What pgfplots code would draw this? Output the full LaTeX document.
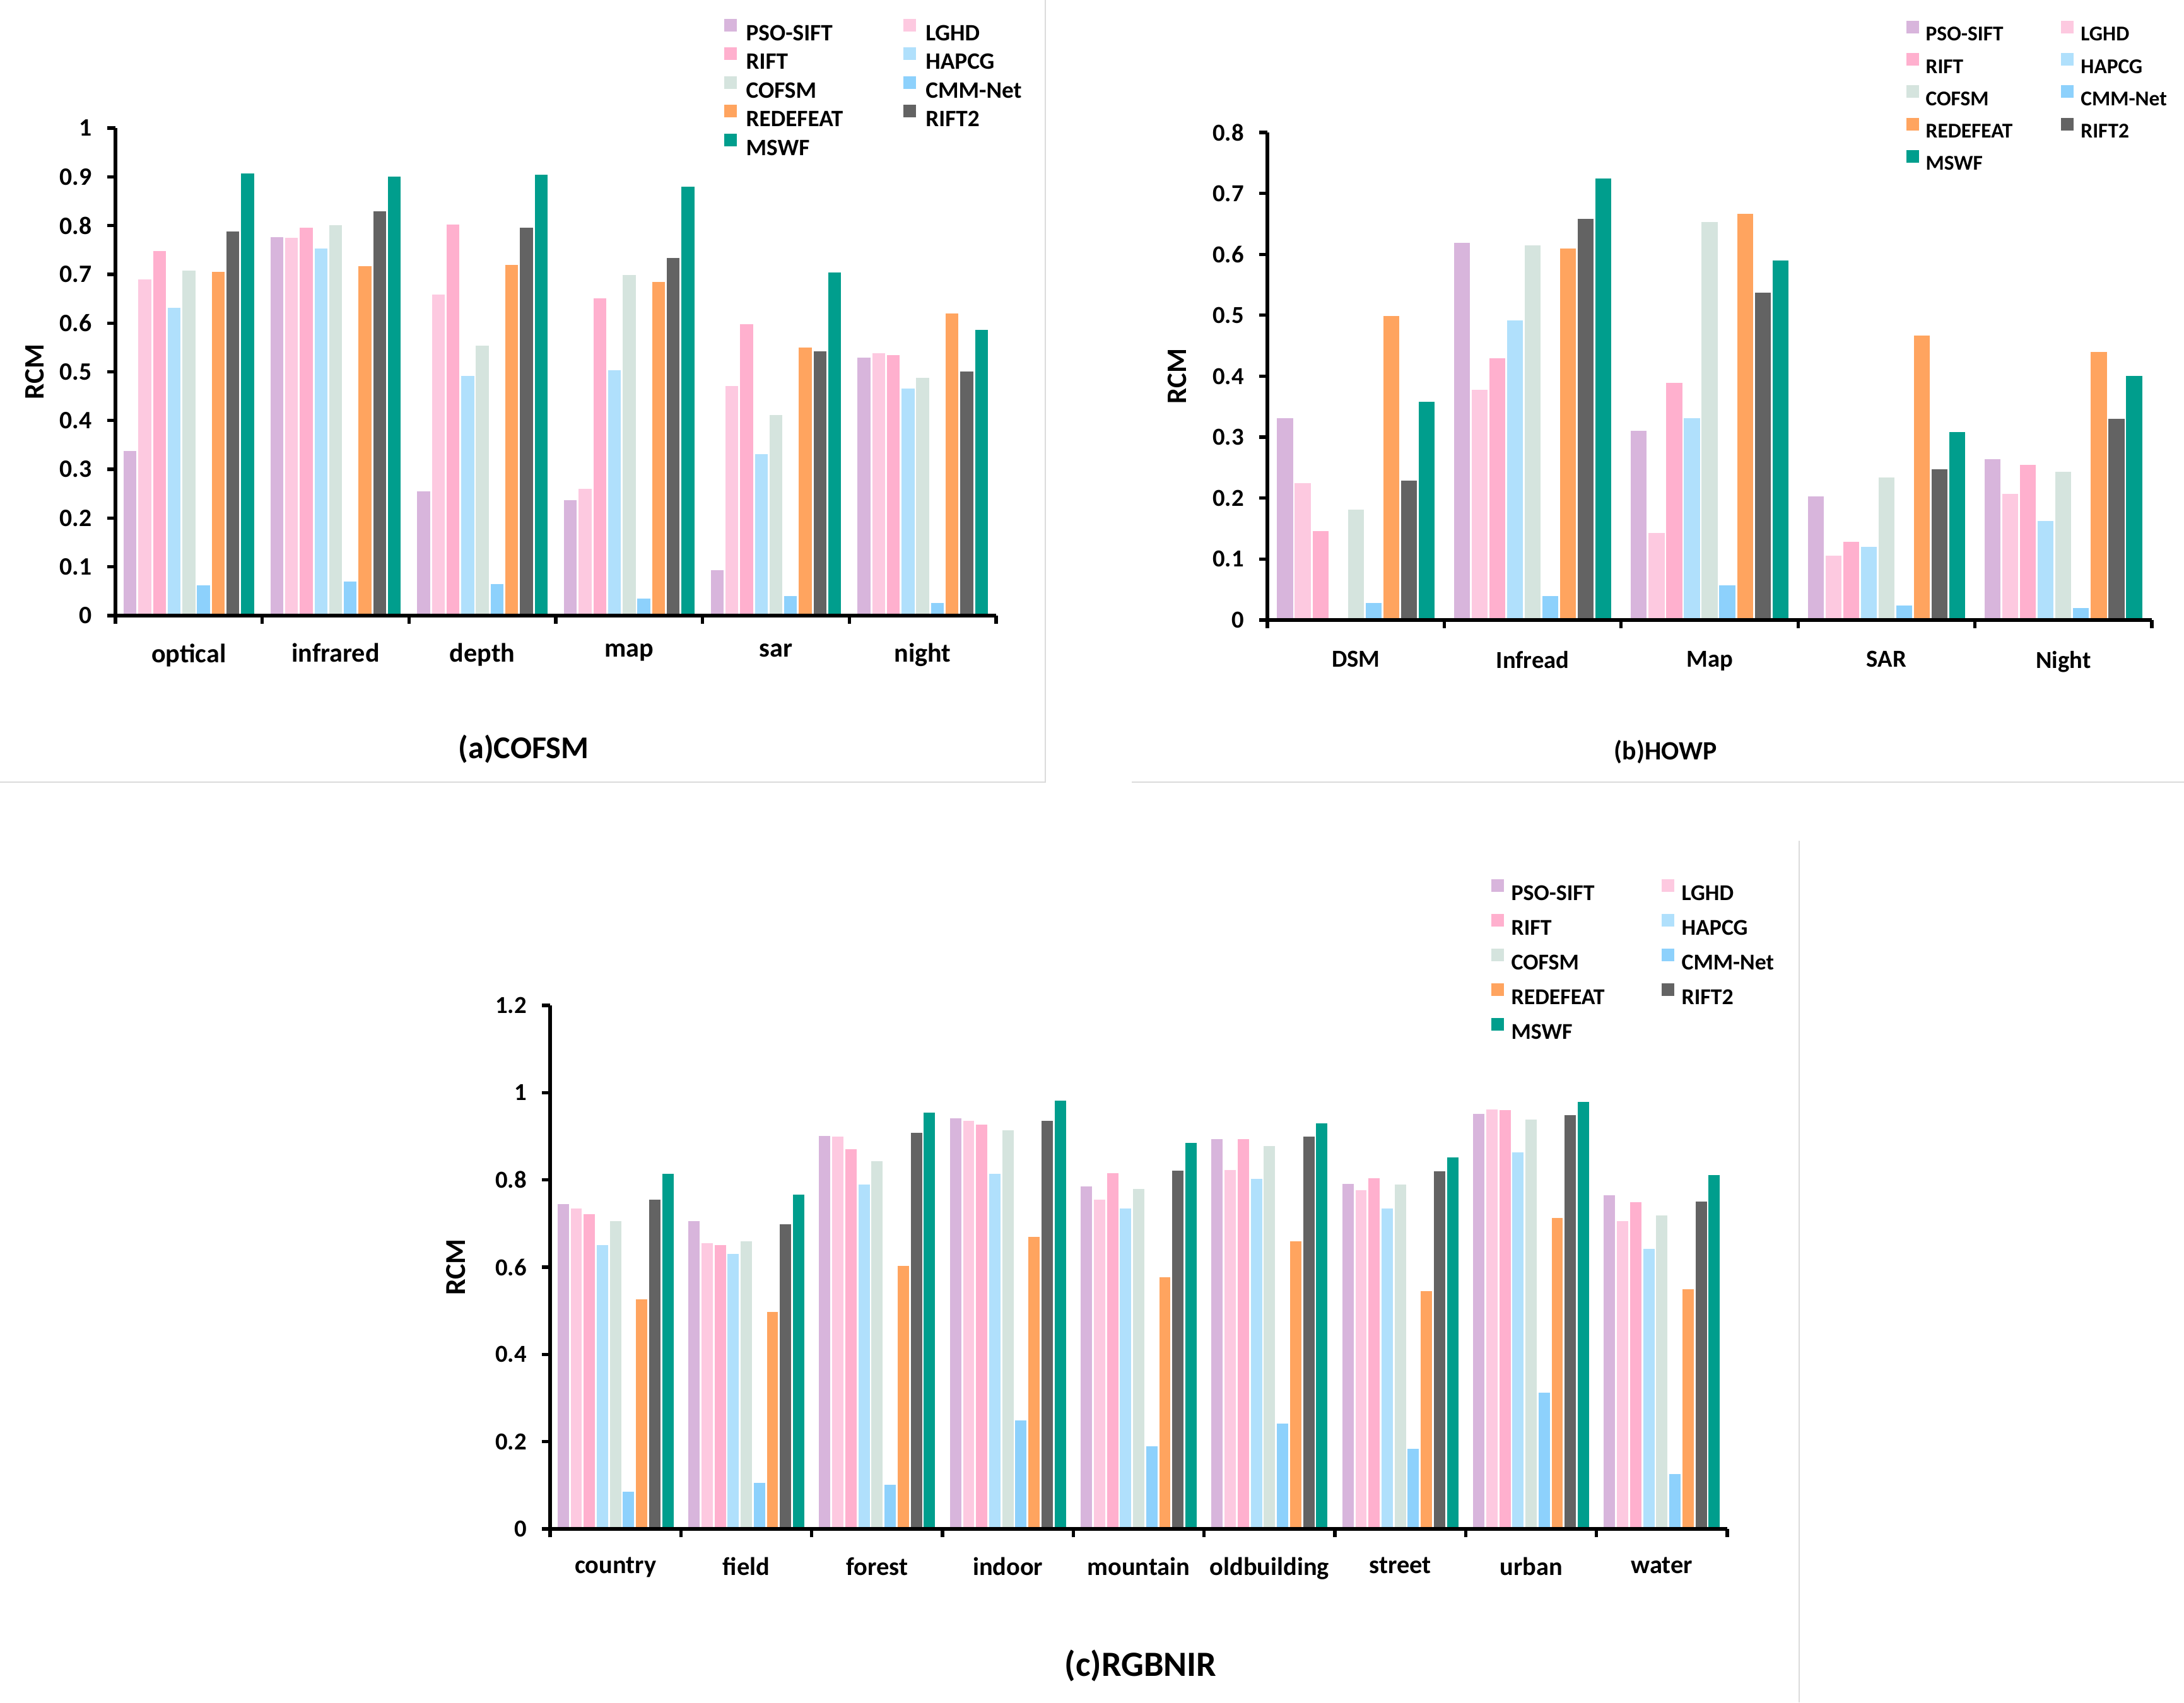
\documentclass[border=0pt]{standalone}
\usepackage{fontspec}
\setmainfont{Carlito}
\usepackage{pgfplots}
\usepackage{pgfplotstable}
\pgfplotsset{compat=1.18}

\definecolor{cPSO}{HTML}{D8B5DC}
\definecolor{cLGHD}{HTML}{FDC9E0}
\definecolor{cRIFT}{HTML}{FFB0CE}
\definecolor{cHAPCG}{HTML}{B0E0FC}
\definecolor{cCOFSM}{HTML}{D5E4DE}
\definecolor{cCMM}{HTML}{8DD1FC}
\definecolor{cRED}{HTML}{FFA45F}
\definecolor{cRIFTtwo}{HTML}{636363}
\definecolor{cMSWF}{HTML}{009E8D}

\newcommand{\fs}[1]{\fontsize{#1}{#1}\selectfont\bfseries}

\pgfplotstableread{
x PSO LGHD RIFT HAPCG COFSM CMM RED RIFTtwo MSWF
0 0.340 0.691 0.750 0.633 0.710 0.064 0.707 0.790 0.908
1 0.778 0.777 0.797 0.755 0.803 0.072 0.719 0.831 0.902
2 0.256 0.660 0.804 0.494 0.555 0.067 0.721 0.797 0.906
3 0.238 0.262 0.652 0.505 0.700 0.037 0.686 0.735 0.882
4 0.095 0.473 0.600 0.333 0.413 0.042 0.552 0.544 0.705
5 0.531 0.540 0.536 0.467 0.489 0.028 0.622 0.503 0.588
}\tabA

\pgfplotstableread{
x PSO LGHD RIFT HAPCG COFSM CMM RED RIFTtwo MSWF
0 0.333 0.226 0.147 0.000 0.183 0.029 0.500 0.230 0.360
1 0.620 0.379 0.431 0.493 0.616 0.041 0.611 0.660 0.726
2 0.312 0.144 0.391 0.333 0.654 0.058 0.668 0.539 0.591
3 0.204 0.107 0.130 0.122 0.235 0.025 0.468 0.249 0.310
4 0.265 0.208 0.256 0.164 0.245 0.021 0.441 0.332 0.402
}\tabB

\pgfplotstableread{
x PSO LGHD RIFT HAPCG COFSM CMM RED RIFTtwo MSWF
0 0.747 0.737 0.723 0.653 0.708 0.088 0.528 0.757 0.816
1 0.707 0.657 0.653 0.633 0.662 0.108 0.500 0.700 0.769
2 0.903 0.901 0.873 0.791 0.845 0.103 0.605 0.910 0.956
3 0.943 0.937 0.929 0.816 0.916 0.251 0.672 0.937 0.983
4 0.787 0.757 0.818 0.736 0.782 0.192 0.579 0.823 0.887
5 0.895 0.825 0.895 0.805 0.880 0.244 0.662 0.902 0.932
6 0.793 0.778 0.806 0.737 0.792 0.186 0.547 0.822 0.853
7 0.954 0.963 0.962 0.865 0.941 0.315 0.715 0.951 0.981
8 0.767 0.708 0.751 0.644 0.721 0.128 0.551 0.752 0.813
}\tabC

\pgfplotsset{
  panel/.style={
    scale only axis,
    ybar=0pt,
    bar width=0.1,
    axis on top,
    axis x line*=bottom,
    axis y line*=left,
    axis line style={black, line width=1.8pt, -},
    enlargelimits=false,
    ymin=0,
    tick align=outside,
    tick style={black, line width=1.5pt},
    major tick length=0.13cm,
    legend columns=2,
    legend cell align=left,
    /pgf/number format/assume math mode=true,
  },
  bars/.style={fill=#1, draw=white, line width=0.8pt},
}

\begin{document}
\begin{tikzpicture}
\useasboundingbox (0,0) rectangle (34.62,26.99);

% faint panel separators
\draw[black!14, line width=0.6pt] (16.57,26.99) -- (16.57,14.59) -- (0,14.59);
\draw[black!14, line width=0.6pt] (17.94,14.59) -- (34.62,14.59);
\draw[black!14, line width=0.6pt] (28.52,13.66) -- (28.52,0);

% ---------------- (a) ----------------
\begin{axis}[panel,
  at={(1.83cm,17.23cm)}, anchor=south west,
  width=13.96cm, height=7.73cm,
  xmin=-0.5, xmax=5.5, ymax=1,
  ytick={0,0.1,0.2,0.3,0.4,0.5,0.6,0.7,0.8,0.9,1},
  xtick={-0.5,0.5,1.5,2.5,3.5,4.5,5.5},
  xticklabels={optical,infrared,depth,map,sar,night,{}},
  x tick label style={font=\fs{12}, anchor=north, xshift=1.163cm, yshift=-0.19cm},
  y tick label style={font=\fs{11.3}, xshift=-0.12cm},
  ylabel={RCM},
  ylabel style={at={(axis description cs:-0.0917,0.5)}, anchor=center, font=\fs{12.7}},
  legend style={at={(0.6905,1.2250)}, anchor=north west, draw=none, fill=none, inner sep=0pt,
    font=\fs{10.6}, row sep=0.062cm,
    nodes={inner xsep=0.06cm, inner ysep=0.05cm, text height=0.25cm, text depth=0pt},
    /tikz/every odd column/.append style={column sep=0.09cm},
    /tikz/every even column/.append style={column sep=0.90cm}},
  legend image code/.code={\fill[#1,draw=none] (0cm,0.018cm) rectangle (0.2cm,0.218cm);},
]
\addplot[bars=cPSO] table[x=x,y=PSO]{\tabA};
\addplot[bars=cLGHD] table[x=x,y=LGHD]{\tabA};
\addplot[bars=cRIFT] table[x=x,y=RIFT]{\tabA};
\addplot[bars=cHAPCG] table[x=x,y=HAPCG]{\tabA};
\addplot[bars=cCOFSM] table[x=x,y=COFSM]{\tabA};
\addplot[bars=cCMM] table[x=x,y=CMM]{\tabA};
\addplot[bars=cRED] table[x=x,y=RED]{\tabA};
\addplot[bars=cRIFTtwo] table[x=x,y=RIFTtwo]{\tabA};
\addplot[bars=cMSWF] table[x=x,y=MSWF]{\tabA};
\legend{PSO-SIFT,LGHD,RIFT,HAPCG,COFSM,CMM-Net,REDEFEAT,RIFT2,MSWF}
\end{axis}

% ---------------- (b) ----------------
\begin{axis}[panel,
  at={(20.09cm,17.16cm)}, anchor=south west,
  width=14.02cm, height=7.73cm,
  xmin=-0.5, xmax=4.5, ymax=0.8,
  ytick={0,0.1,0.2,0.3,0.4,0.5,0.6,0.7,0.8},
  xtick={-0.5,0.5,1.5,2.5,3.5,4.5},
  xticklabels={DSM,Infread,Map,SAR,Night,{}},
  x tick label style={font=\fs{11}, anchor=north, xshift=1.402cm, yshift=-0.24cm},
  y tick label style={font=\fs{11}, xshift=-0.12cm},
  ylabel={RCM},
  ylabel style={at={(axis description cs:-0.102,0.5)}, anchor=center, font=\fs{12.7}},
  legend style={at={(0.7218,1.2300)}, anchor=north west, draw=none, fill=none, inner sep=0pt,
    font=\fs{9.5}, row sep=0.142cm,
    nodes={inner xsep=0.06cm, inner ysep=0.05cm, text height=0.23cm, text depth=0pt},
    /tikz/every odd column/.append style={column sep=0.05cm},
    /tikz/every even column/.append style={column sep=0.71cm}},
  legend image code/.code={\fill[#1,draw=none] (0cm,0.005cm) rectangle (0.2cm,0.205cm);},
]
\addplot[bars=cPSO] table[x=x,y=PSO]{\tabB};
\addplot[bars=cLGHD] table[x=x,y=LGHD]{\tabB};
\addplot[bars=cRIFT] table[x=x,y=RIFT]{\tabB};
\addplot[bars=cHAPCG] table[x=x,y=HAPCG]{\tabB};
\addplot[bars=cCOFSM] table[x=x,y=COFSM]{\tabB};
\addplot[bars=cCMM] table[x=x,y=CMM]{\tabB};
\addplot[bars=cRED] table[x=x,y=RED]{\tabB};
\addplot[bars=cRIFTtwo] table[x=x,y=RIFTtwo]{\tabB};
\addplot[bars=cMSWF] table[x=x,y=MSWF]{\tabB};
\legend{PSO-SIFT,LGHD,RIFT,HAPCG,COFSM,CMM-Net,REDEFEAT,RIFT2,MSWF}
\end{axis}

% ---------------- (c) ----------------
\begin{axis}[panel,
  at={(8.72cm,2.75cm)}, anchor=south west,
  width=18.66cm, height=8.30cm,
  xmin=-0.5, xmax=8.5, ymax=1.2,
  ytick={0,0.2,0.4,0.6,0.8,1,1.2},
  xtick={-0.5,0.5,1.5,2.5,3.5,4.5,5.5,6.5,7.5,8.5},
  xticklabels={country,field,forest,indoor,mountain,oldbuilding,street,urban,water,{}},
  x tick label style={font=\fs{11.5}, anchor=north, xshift=1.0367cm, yshift=-0.20cm},
  y tick label style={font=\fs{11}, xshift=-0.12cm},
  ylabel={RCM},
  ylabel style={at={(axis description cs:-0.080,0.5)}, anchor=center, font=\fs{13}},
  legend style={at={(0.799,1.2420)}, anchor=north west, draw=none, fill=none, inner sep=0pt,
    font=\fs{10.2}, row sep=0.162cm,
    nodes={inner xsep=0.06cm, inner ysep=0.05cm, text height=0.25cm, text depth=0pt},
    /tikz/every odd column/.append style={column sep=0.06cm},
    /tikz/every even column/.append style={column sep=0.84cm}},
  legend image code/.code={\fill[#1,draw=none] (0cm,0.013cm) rectangle (0.2cm,0.213cm);},
]
\addplot[bars=cPSO] table[x=x,y=PSO]{\tabC};
\addplot[bars=cLGHD] table[x=x,y=LGHD]{\tabC};
\addplot[bars=cRIFT] table[x=x,y=RIFT]{\tabC};
\addplot[bars=cHAPCG] table[x=x,y=HAPCG]{\tabC};
\addplot[bars=cCOFSM] table[x=x,y=COFSM]{\tabC};
\addplot[bars=cCMM] table[x=x,y=CMM]{\tabC};
\addplot[bars=cRED] table[x=x,y=RED]{\tabC};
\addplot[bars=cRIFTtwo] table[x=x,y=RIFTtwo]{\tabC};
\addplot[bars=cMSWF] table[x=x,y=MSWF]{\tabC};
\legend{PSO-SIFT,LGHD,RIFT,HAPCG,COFSM,CMM-Net,REDEFEAT,RIFT2,MSWF}
\end{axis}

% titles
\node[font=\fs{14.3}] at (8.30,15.11) {(a)COFSM};
\node[font=\fs{11.9}] at (26.40,15.07) {(b)HOWP};
\node[font=\fs{16}] at (18.08,0.58) {(c)RGBNIR};
\end{tikzpicture}
\end{document}
